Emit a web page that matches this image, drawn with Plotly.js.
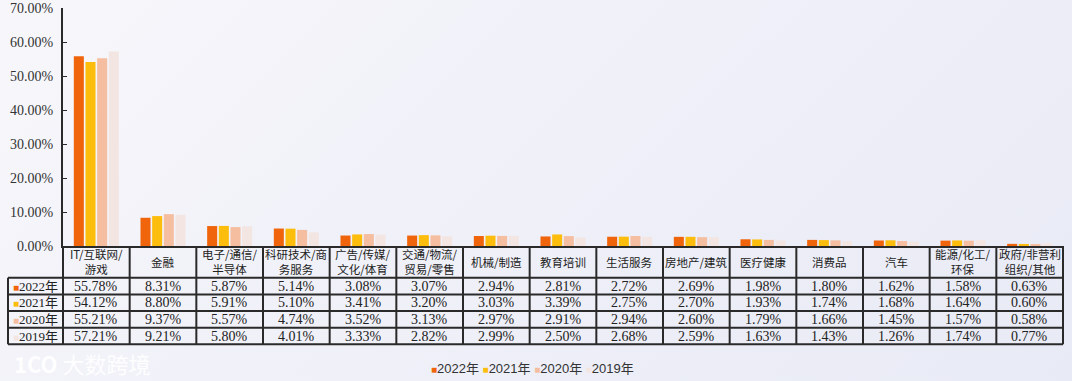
<!DOCTYPE html>
<html>
<head>
<meta charset="utf-8">
<script src="https://cdn.plot.ly/plotly-3.0.1.min.js"></script>
<style>
  html, body { margin:0; padding:0; }
  body { width:1072px; height:381px; overflow:hidden;
         background: linear-gradient(135deg, #f7f7fb 0%, #eff0f8 50%, #e8eaf5 100%); }
  #chart { width:1072px; height:381px; }
</style>
</head>
<body>
<div id="chart"></div>
<script>
// ---- data ----
const categories = ['IT/互联网/<br>游戏','金融','电子/通信/<br>半导体','科研技术/商<br>务服务','广告/传媒/<br>文化/体育','交通/物流/<br>贸易/零售','机械/制造','教育培训','生活服务','房地产/建筑','医疗健康','消费品','汽车','能源/化工/<br>环保','政府/非营利<br>组织/其他'];
const seriesNames = ['2022年','2021年','2020年','2019年'];
const v2022 = [55.78, 8.31, 5.87, 5.14, 3.08, 3.07, 2.94, 2.81, 2.72, 2.69, 1.98, 1.80, 1.62, 1.58, 0.63];
const v2021 = [54.12, 8.80, 5.91, 5.10, 3.41, 3.20, 3.03, 3.39, 2.75, 2.70, 1.93, 1.74, 1.68, 1.64, 0.60];
const v2020 = [55.21, 9.37, 5.57, 4.74, 3.52, 3.13, 2.97, 2.91, 2.94, 2.60, 1.79, 1.66, 1.45, 1.57, 0.58];
const v2019 = [57.21, 9.21, 5.80, 4.01, 3.33, 2.82, 2.99, 2.50, 2.68, 2.59, 1.63, 1.43, 1.26, 1.74, 0.77];
const yTicks = [0, 10, 20, 30, 40, 50, 60, 70];

// ---- styling ----
const colors = ['#f0650c', '#fdbd0d', '#f5bea0', '#f3e5e1'];
const seriesValues = [v2022, v2021, v2020, v2019];
const W = 1072, H = 381, ml = 63, mr = 9, mt = 8, mb = 135;
const plotH = H - mt - mb, plotW = W - ml - mr;
const yp = py => (H - mb - py) / plotH;      // pixel y -> paper y
const xp = px => (px - ml) / plotW;          // pixel x -> paper x
const lineColor = '#2a2a2a';
const valFont = {family: 'Liberation Serif, Noto Sans CJK SC, serif', size: 14, color: '#222'};
const hdrFont = {family: 'Noto Sans CJK SC, sans-serif', size: 11.5, color: '#222'};

const traces = seriesValues.map((vals, k) => ({
  type: 'bar', name: seriesNames[k], x: categories, y: vals,
  marker: {color: colors[k]}, hoverinfo: 'x+y', showlegend: false
}));

// table geometry (pixels)
const rowLines = [277.7, 294.4, 311.0, 327.7, 344.3];
const tableLeft = 8, tableTop = H - mb;
const n = categories.length;
const shapes = [];
rowLines.forEach(py => shapes.push({type:'line', xref:'paper', yref:'paper',
  x0: xp(tableLeft), x1: 1, y0: yp(py), y1: yp(py), line:{color: lineColor, width: 2}}));
for (let k = 0; k <= n; k++) {
  shapes.push({type:'line', xref:'paper', yref:'paper', x0: k / n, x1: k / n,
    y0: yp(tableTop), y1: yp(rowLines[rowLines.length - 1]), line:{color: lineColor, width: 2}});
}
shapes.push({type:'line', xref:'paper', yref:'paper', x0: xp(tableLeft), x1: xp(tableLeft),
  y0: yp(rowLines[0]), y1: yp(rowLines[rowLines.length - 1]), line:{color: lineColor, width: 2}});

const annotations = [];
// header
categories.forEach((c, i) => {
  annotations.push({xref:'x', yref:'paper', x: c, y: yp((tableTop + rowLines[0]) / 2),
    text: c, showarrow:false, font: hdrFont, xanchor:'center', yanchor:'middle', align:'center'});
});
// values
seriesValues.forEach((vals, r) => {
  const cy = (rowLines[r] + rowLines[r + 1]) / 2;
  vals.forEach((v, i) => annotations.push({xref:'x', yref:'paper', x: categories[i], y: yp(cy),
    text: v.toFixed(2) + '%', showarrow:false, font: valFont, xanchor:'center', yanchor:'middle'}));
  annotations.push({xref:'paper', yref:'paper', x: xp((tableLeft + ml) / 2), y: yp(cy),
    text: '<span style="color:' + colors[r] + ';font-size:10px">■</span>' + seriesNames[r],
    showarrow:false, font: {family:'Liberation Serif, Noto Sans CJK SC, serif', size: 13, color:'#222'},
    xanchor:'center', yanchor:'middle'});
});
// legend
annotations.push({xref:'paper', yref:'paper', x: xp(532), y: yp(368),
  text: seriesNames.map((s, k) => '<span style="color:' + colors[k] + ';font-size:10px">■</span>' + s).join(' '),
  showarrow:false, font:{family:'Liberation Sans, Noto Sans CJK SC, sans-serif', size: 13, color:'#333'},
  xanchor:'center', yanchor:'middle'});
// watermark
annotations.push({xref:'paper', yref:'paper', x: xp(12), y: yp(363), xanchor:'left', yanchor:'middle',
  text: '<b>1CO</b> 大数跨境', showarrow:false,
  font:{family:'Noto Sans CJK SC, sans-serif', size: 22, color:'rgba(255,255,255,0.95)'}});

const layout = {
  width: W, height: H,
  margin: {l: ml, r: mr, t: mt, b: mb, pad: 0},
  paper_bgcolor: 'rgba(0,0,0,0)', plot_bgcolor: 'rgba(0,0,0,0)',
  barmode: 'group', bargap: 0.3, bargroupgap: 0.14,
  showlegend: false,
  xaxis: {showticklabels: false, ticks: '', showgrid: false, zeroline: false,
          showline: true, linecolor: lineColor, linewidth: 2, fixedrange: true},
  yaxis: {range: [0, 70], tickvals: yTicks, ticktext: yTicks.map(t => t.toFixed(2) + '%'),
          showgrid: false, zeroline: false, showline: true, linecolor: lineColor, linewidth: 2,
          ticks: 'inside', ticklen: 4, tickcolor: lineColor, ticklabelstandoff: 5,
          tickfont: {family: 'Liberation Serif, serif', size: 14, color: '#333'}},
  shapes: shapes, annotations: annotations
};
Plotly.newPlot('chart', traces, layout, {displayModeBar: false, staticPlot: true});
</script>
</body>
</html>
